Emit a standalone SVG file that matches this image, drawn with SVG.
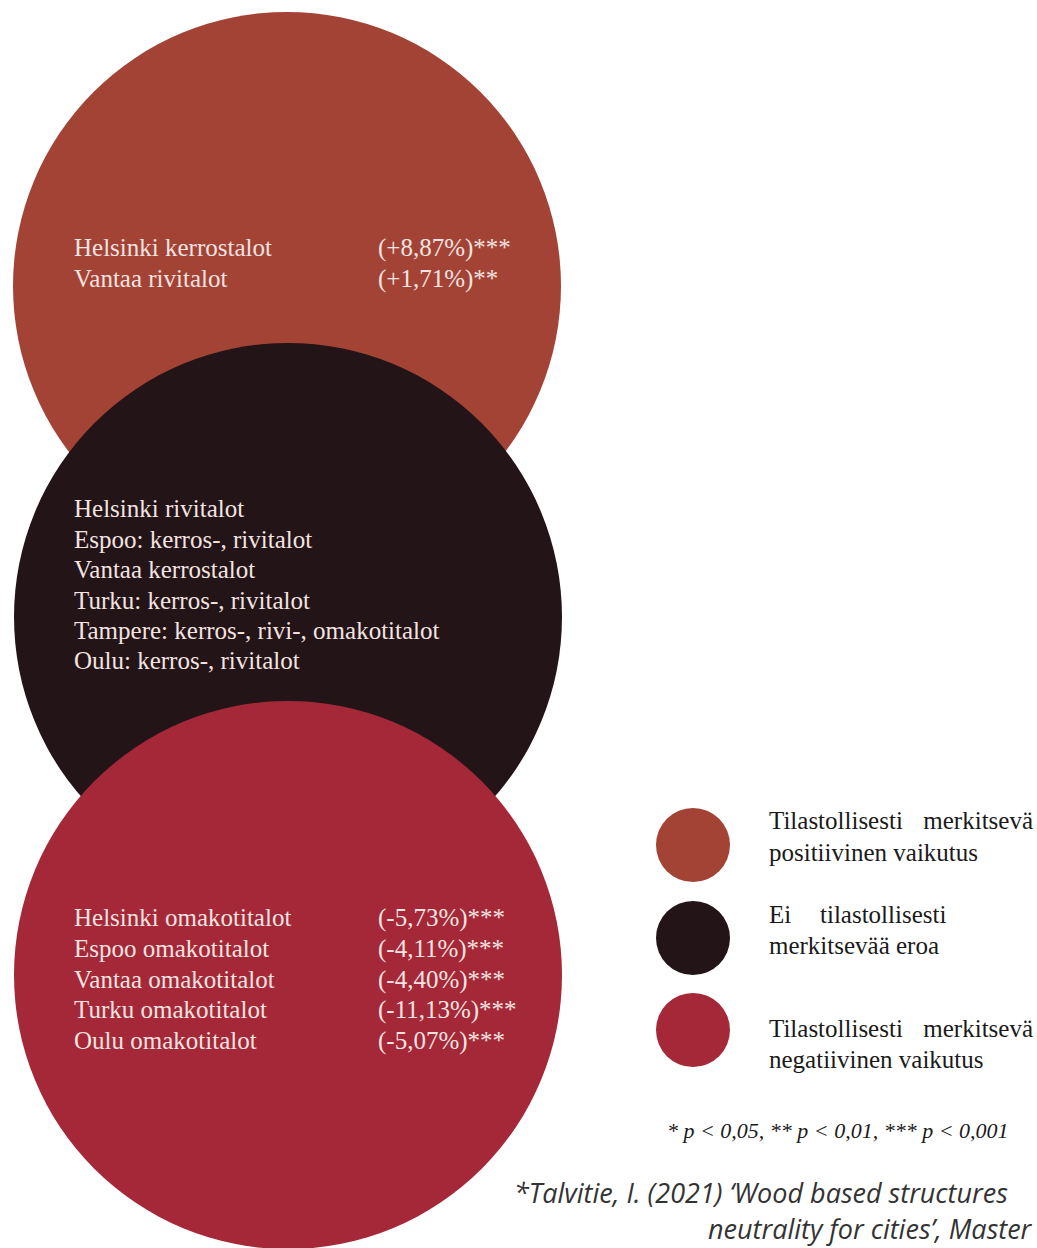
<svg xmlns="http://www.w3.org/2000/svg" width="1037" height="1248" viewBox="0 0 1037 1248">
<style>
.pos{fill:#A34336}
.neu{fill:#231418}
.neg{fill:#A42838}
.t{font-family:"Liberation Serif","Times New Roman",serif;font-size:25px;fill:#F3E4E0}
.lg{font-family:"Liberation Serif","Times New Roman",serif;font-size:25px;fill:#1a1a1a}
.p{font-family:"Liberation Serif","Times New Roman",serif;font-size:22px;font-style:italic;fill:#1a1a1a}
.cite{font-family:"Open Sans","Noto Sans",sans-serif;font-size:27px;font-style:italic;fill:#333}
</style>
<rect width="1037" height="1248" fill="#fff"/>
<g id="positive">
<circle class="pos" cx="287" cy="286" r="274"/>
<text class="t" x="74" y="256">Helsinki kerrostalot</text>
<text class="t" x="378" y="256">(+8,87%)***</text>
<text class="t" x="74" y="287">Vantaa rivitalot</text>
<text class="t" x="378" y="287">(+1,71%)**</text>
</g>
<g id="neutral">
<circle class="neu" cx="288" cy="617" r="274"/>
<text class="t" x="74" y="517">Helsinki rivitalot</text>
<text class="t" x="74" y="548">Espoo: kerros-, rivitalot</text>
<text class="t" x="74" y="578">Vantaa kerrostalot</text>
<text class="t" x="74" y="609">Turku: kerros-, rivitalot</text>
<text class="t" x="74" y="639">Tampere: kerros-, rivi-, omakotitalot</text>
<text class="t" x="74" y="669">Oulu: kerros-, rivitalot</text>
</g>
<g id="negative">
<circle class="neg" cx="288" cy="975" r="274"/>
<text class="t" x="74" y="926">Helsinki omakotitalot</text>
<text class="t" x="378" y="926">(-5,73%)***</text>
<text class="t" x="74" y="957">Espoo omakotitalot</text>
<text class="t" x="378" y="957">(-4,11%)***</text>
<text class="t" x="74" y="988">Vantaa omakotitalot</text>
<text class="t" x="378" y="988">(-4,40%)***</text>
<text class="t" x="74" y="1018">Turku omakotitalot</text>
<text class="t" x="378" y="1018">(-11,13%)***</text>
<text class="t" x="74" y="1049">Oulu omakotitalot</text>
<text class="t" x="378" y="1049">(-5,07%)***</text>
</g>
<g id="legend-positive">
<circle class="pos" cx="693" cy="845" r="37"/>
<text class="lg" x="769" y="829">Tilastollisesti</text>
<text class="lg" x="1033" y="829" text-anchor="end">merkitsevä</text>
<text class="lg" x="769" y="861">positiivinen vaikutus</text>
</g>
<g id="legend-neutral">
<circle class="neu" cx="693" cy="938" r="37"/>
<text class="lg" x="769" y="923">Ei</text>
<text class="lg" x="820" y="923">tilastollisesti</text>
<text class="lg" x="769" y="954">merkitsevää eroa</text>
</g>
<g id="legend-negative">
<circle class="neg" cx="693" cy="1030" r="37"/>
<text class="lg" x="769" y="1037">Tilastollisesti</text>
<text class="lg" x="1033" y="1037" text-anchor="end">merkitsevä</text>
<text class="lg" x="769" y="1068">negatiivinen vaikutus</text>
</g>
<g id="notes">
<text class="p" x="667" y="1138">* p &lt; 0,05, ** p &lt; 0,01, *** p &lt; 0,001</text>
<text class="cite" x="514" y="1203">*Talvitie, I. (2021) ‘Wood based structures</text>
<text class="cite" x="708" y="1239">neutrality for cities’, Master</text>
</g>
<g id="connectors"/>
</svg>
